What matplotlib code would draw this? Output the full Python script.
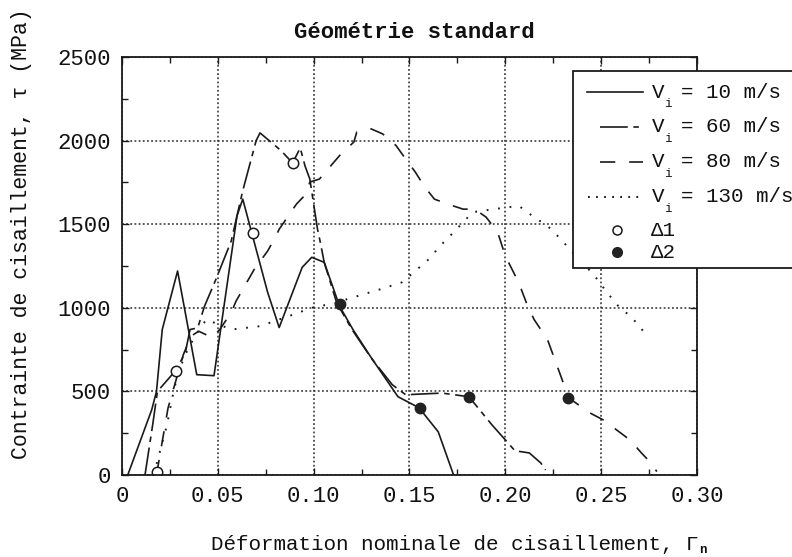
import matplotlib
matplotlib.use("Agg")
import matplotlib.pyplot as plt
from matplotlib.lines import Line2D
from matplotlib.patches import Rectangle

plt.rcParams['font.family'] = ['Liberation Mono', 'DejaVu Sans Mono']
plt.rcParams['lines.scale_dashes'] = False

# ---------------- data ----------------
x_10 = [0.003, 0.0155, 0.018, 0.021, 0.029, 0.039, 0.048, 0.060, 0.063, 0.076, 0.082,
        0.094, 0.099, 0.1055, 0.1135, 0.1205, 0.130, 0.144, 0.155, 0.165, 0.173]
y_10 = [0, 390, 500, 870, 1220, 600, 594, 1550, 1650, 1092, 882,
        1242, 1302, 1272, 1010, 870, 702, 468, 402, 258, 0]

x_60 = [0.012, 0.016, 0.0185, 0.028, 0.033, 0.0355, 0.0395, 0.043, 0.049, 0.057, 0.063,
        0.067, 0.070, 0.072, 0.083, 0.089, 0.093, 0.0955, 0.098, 0.102, 0.1035, 0.1055,
        0.112, 0.120, 0.130, 0.141, 0.148, 0.167, 0.181, 0.193, 0.200, 0.205, 0.2125,
        0.2185, 0.221]
y_60 = [0, 300, 500, 625, 730, 870, 880, 1008, 1170, 1400, 1700,
        1872, 2000, 2046, 1940, 1866, 1956, 1848, 1770, 1470, 1390, 1272,
        1030, 870, 700, 540, 480, 490, 468, 300, 210, 145, 132,
        72, 30]

x_80 = [0.018, 0.021, 0.024, 0.028, 0.032, 0.036, 0.040, 0.047, 0.051, 0.057, 0.0595,
        0.065, 0.069, 0.076, 0.080, 0.082, 0.091, 0.096, 0.098, 0.103, 0.1135, 0.121,
        0.1225, 0.130, 0.136, 0.143, 0.148, 0.153, 0.158, 0.163, 0.170, 0.178, 0.184,
        0.190, 0.196, 0.200, 0.207, 0.211, 0.215, 0.222, 0.229, 0.233, 0.244, 0.251,
        0.258, 0.265, 0.271, 0.277, 0.279]
y_80 = [0, 200, 400, 560, 720, 830, 860, 822, 870, 972, 1040,
        1150, 1230, 1340, 1422, 1470, 1620, 1680, 1752, 1770, 1910, 1992,
        2052, 2070, 2040, 1970, 1890, 1812, 1722, 1650, 1620, 1590, 1590,
        1542, 1452, 1310, 1150, 1030, 930, 810, 590, 462, 372, 330,
        270, 210, 132, 60, 20]

x_130 = [0.0165, 0.020, 0.0235, 0.026, 0.029, 0.033, 0.038, 0.044, 0.057, 0.072, 0.087,
         0.099, 0.112, 0.117, 0.1345, 0.146, 0.153, 0.160, 0.166, 0.173, 0.183, 0.194,
         0.207, 0.215, 0.222, 0.229, 0.235, 0.242, 0.248, 0.253, 0.259, 0.266, 0.272]
y_130 = [0, 150, 300, 450, 600, 720, 830, 930, 870, 890, 950,
         1000, 1030, 1050, 1110, 1152, 1220, 1290, 1370, 1452, 1572, 1590,
         1610, 1542, 1490, 1410, 1332, 1250, 1170, 1092, 1010, 942, 860]

x_d1 = [0.0183, 0.028, 0.0683, 0.089]
y_d1 = [18, 625, 1450, 1866]
x_d2 = [0.1137, 0.1555, 0.181, 0.2327]
y_d2 = [1020, 402, 468, 462]

x_ticks = [0, 0.05, 0.10, 0.15, 0.20, 0.25, 0.30]
x_ticklabels = ['0', '0.05', '0.10', '0.15', '0.20', '0.25', '0.30']
y_ticks = [0, 500, 1000, 1500, 2000, 2500]
y_ticklabels = ['0', '500', '1000', '1500', '2000', '2500']

legend_labels = ['= 10 m/s', '= 60 m/s', '= 80 m/s', '= 130 m/s']

# ---------------- figure ----------------
W, H = 792, 557
fig = plt.figure(figsize=(W / 100, H / 100), dpi=100)
fig.patch.set_facecolor('white')


def fx(px):
    return px / W


def fy(py):
    return 1 - py / H


L, R, T, B = 122, 697, 57, 475
ax = fig.add_axes([fx(L), fy(B), fx(R) - fx(L), fy(T) - fy(B)])

ls_60 = (0, (20, 4, 4, 4))
ls_80 = (0, (11, 10))
ls_130 = (0, (1.3, 7))
lw = 1.2
col = '#1a1a1a'

ax.plot(x_10, y_10, color=col, lw=lw, ls='-')
ax.plot(x_60, y_60, color=col, lw=lw, ls=ls_60)
ax.plot(x_80, y_80, color=col, lw=lw, ls=ls_80)
ax.plot(x_130, y_130, color=col, lw=lw + 0.2, ls=ls_130)
ax.plot(x_d1, y_d1, ls='none', marker='o', ms=7.5, mfc='white', mec=col, mew=1.1)
ax.plot(x_d2, y_d2, ls='none', marker='o', ms=7.5, mfc='#222222', mec='#222222')

ax.set_xlim(0, 0.30)
ax.set_ylim(0, 2500)
ax.set_xticks(x_ticks)
ax.set_xticklabels(x_ticklabels)
ax.set_yticks(y_ticks)
ax.set_yticklabels(y_ticklabels)
ax.set_xticks([0.025, 0.075, 0.125, 0.175, 0.225, 0.275], minor=True)
ax.set_yticks([250, 750, 1250, 1750, 2250], minor=True)
ax.tick_params(which='both', direction='in', top=True, right=True, width=1.0, color=col)
ax.tick_params(which='major', length=5, labelsize=16, pad=8, labelcolor='#111111')
ax.tick_params(which='minor', length=4)
ax.grid(True, which='major', ls=(0, (1.3, 1.7)), lw=1.1, color='#2a2a2a')
for s in ax.spines.values():
    s.set_linewidth(1.3)
    s.set_color(col)

# title and axis labels
fig.text(fx(414), fy(32), 'Géométrie standard', ha='center', va='center',
         fontsize=16, fontweight='bold', color='#111111')
fig.text(fx(22), fy(234), 'Contrainte de cisaillement, τ (MPa)', ha='center', va='center',
         rotation=90, fontsize=15.5, color='#111111')
fig.text(fx(211), fy(544), 'Déformation nominale de cisaillement, Γ', ha='left', va='center',
         fontsize=15, color='#111111')
fig.text(fx(699), fy(550), 'n', ha='left', va='center', fontsize=9, fontweight='bold',
         color='#111111')

# ---------------- legend (drawn by hand) ----------------
box = Rectangle((fx(573), fy(268)), fx(820) - fx(573), fy(71) - fy(268),
                transform=fig.transFigure, facecolor='white', edgecolor=col,
                lw=1.3, zorder=5, clip_on=False)
fig.add_artist(box)

row_y = [92, 127, 162, 197]
handle_styles = [('-', 587), (ls_60, 600), (ls_80, 600), ((0, (1.3, 4.5)), 588)]
for i, ((ls, x0), yy, lab) in enumerate(zip(handle_styles, row_y, legend_labels)):
    fig.add_artist(Line2D([fx(x0), fx(643)], [fy(yy), fy(yy)], transform=fig.transFigure,
                          color=col, lw=lw + (0.2 if i == 3 else 0),
                          ls=ls, zorder=6))
    fig.text(fx(652), fy(yy), 'V', ha='left', va='center', fontsize=15, zorder=6,
             color='#111111')
    fig.text(fx(664), fy(yy + 12), 'i', ha='left', va='center', fontsize=9, zorder=6,
             color='#111111')
    fig.text(fx(681), fy(yy), lab, ha='left', va='center', fontsize=15, zorder=6,
             color='#111111')

fig.add_artist(Line2D([fx(617)], [fy(230)], transform=fig.transFigure, ls='none',
                      marker='o', ms=6.5, mfc='white', mec=col, mew=1.1, zorder=6))
fig.add_artist(Line2D([fx(617)], [fy(252)], transform=fig.transFigure, ls='none',
                      marker='o', ms=7, mfc='#222222', mec='#222222', zorder=6))
fig.text(fx(651), fy(230), 'Δ1', ha='left', va='center', fontsize=15, zorder=6, color='#111111')
fig.text(fx(651), fy(252), 'Δ2', ha='left', va='center', fontsize=15, zorder=6, color='#111111')

fig.savefig('out.png', dpi=100, facecolor='white')
